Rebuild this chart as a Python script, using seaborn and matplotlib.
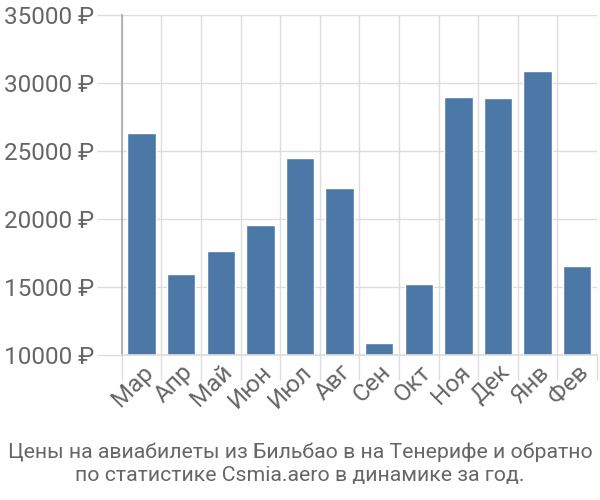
import numpy as np
import pandas as pd
import matplotlib
matplotlib.use('Agg')
import matplotlib.pyplot as plt
import seaborn as sns
from matplotlib.ticker import FixedLocator, FuncFormatter

months = ['Мар', 'Апр', 'Май', 'Июн', 'Июл', 'Авг', 'Сен', 'Окт', 'Ноя', 'Дек', 'Янв', 'Фев']
prices = [26300, 15950, 17650, 19560, 24490, 22280, 10880, 15220, 28970, 28900, 30880, 16540]
title = 'Цены на авиабилеты из Бильбао в на Тенерифе и обратно\nпо статистике Csmia.aero в динамике за год.'

sns.set_theme(style='white')
plt.rcParams['font.family'] = ['Roboto', 'DejaVu Sans']

df = pd.DataFrame({'month': months, 'price': prices})

fig = plt.figure(figsize=(6, 5), dpi=100)
ax = fig.add_axes([0.203, 0.29, 0.792, 0.68])

sns.barplot(data=df, x='month', y='price', color='#4c78a8', saturation=1,
            width=0.72, ax=ax, zorder=2)
ax.set_ylim(10000, 35000)
ax.set_xlim(-0.5, len(months) - 0.5)

ax.yaxis.set_major_locator(FixedLocator(np.arange(10000, 35001, 5000)))
ax.yaxis.set_major_formatter(FuncFormatter(lambda v, p: f'{int(v)} ₽'))
ax.xaxis.set_minor_locator(FixedLocator(np.arange(-0.5, len(months), 1)))

ax.grid(True, axis='y', which='major', color='#dddddd', lw=1, zorder=0)
ax.grid(True, axis='x', which='minor', color='#dddddd', lw=1, zorder=0)
ax.tick_params(axis='x', which='major', length=0, pad=4, labelsize=17.5, labelcolor='#666666')
ax.tick_params(axis='x', which='minor', length=18, width=1, color='#dddddd', bottom=True)
ax.tick_params(axis='y', length=18, width=1, color='#dddddd', left=True, labelsize=17.5,
               labelcolor='#666666', pad=2)
for lab in ax.get_xticklabels():
    lab.set_rotation(45)
    lab.set_ha('right')
    lab.set_rotation_mode('anchor')

for s in ['top', 'right']:
    ax.spines[s].set_visible(False)
ax.spines['left'].set_color('#aaaaaa')
ax.spines['bottom'].set_color('#dddddd')
ax.set_xlabel('')
ax.set_ylabel('')

fig.text(0.5, 0.03, title, ha='center', va='bottom', fontsize=15.3, color='#666666',
         linespacing=1.3)

fig.savefig('out.png', dpi=100)
